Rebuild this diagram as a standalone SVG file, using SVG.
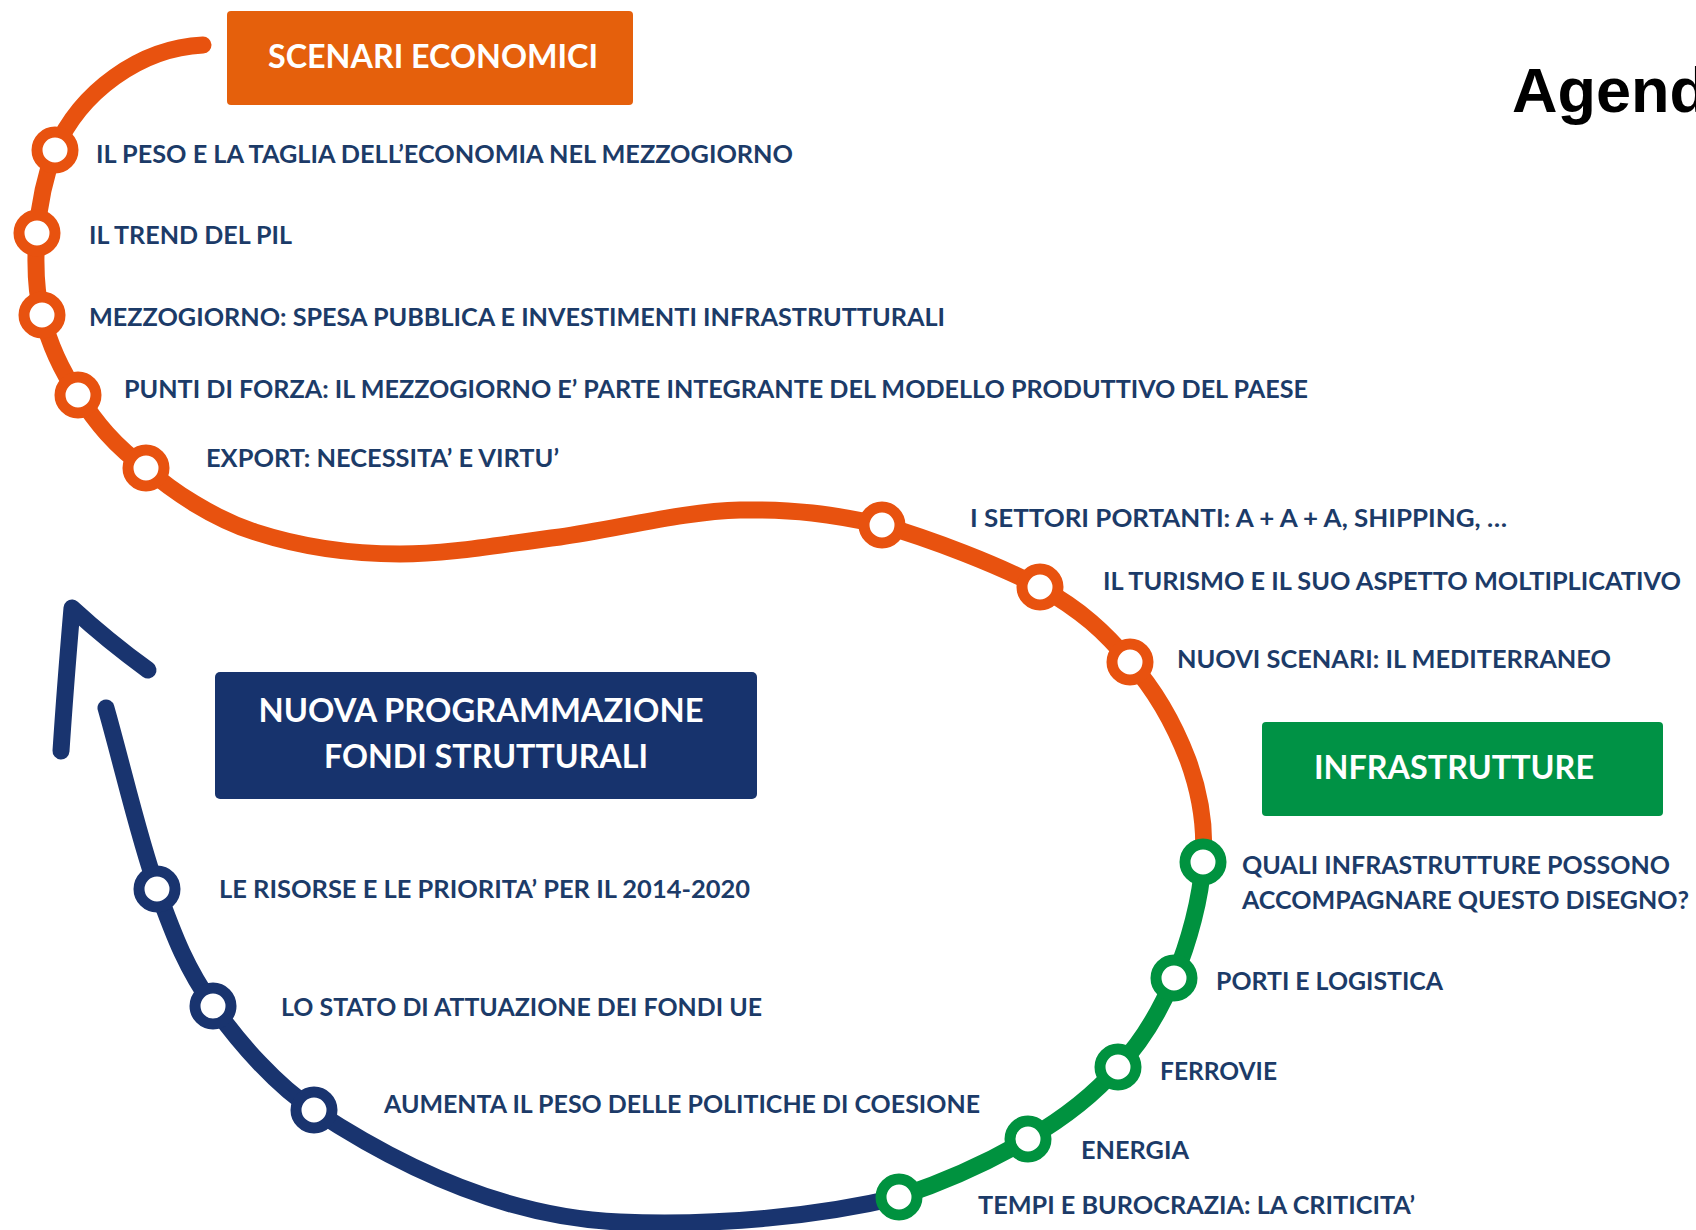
<svg xmlns="http://www.w3.org/2000/svg" width="1696" height="1230" viewBox="0 0 1696 1230">
  <style>
    .lbl { font-family: Lato, "Open Sans", "Liberation Sans", sans-serif; font-weight: 700; font-size: 25px; fill: #1c3b68; }
    .ttl { font-family: Lato, "Open Sans", "Liberation Sans", sans-serif; font-weight: 700; font-size: 33px; fill: #ffffff; text-anchor: middle; }
    .line { fill: none; stroke-width: 17; stroke-linecap: round; stroke-linejoin: round; }
    .stop { fill: #ffffff; stroke-width: 11; }
    .o { stroke: #e8520f; }
    .g { stroke: #00923f; }
    .b { stroke: #19346f; }
  </style>
  <rect width="1696" height="1230" fill="#ffffff"/>

  <text x="1512" y="112" font-family="'Liberation Sans', Arial, sans-serif" font-weight="700" font-size="63" fill="#000000">Agenda</text>

  <g id="connectors">
    <path class="line o" d="M 203 45 C 140 48 80 92 55 150 C 45 176 39 205 37 233 C 35 261 35 289 42 315 C 49 343 61 370 78 395 C 95 421 115 447 146 468 C 172 491 212 518 255 532 C 298 546 349 554 400 554 C 451 554 503 544 560 537 C 617 529 686 511 740 510 C 794 509 831 514 882 525 C 931 539 998 565 1040 587 C 1081 610 1105 632 1130 662 C 1155 690 1175 726 1188 760 C 1200 793 1206 826 1203 862"/>
    <path class="line g" d="M 1203 862 C 1201 898 1189 942 1174 978 C 1160 1011 1142 1042 1118 1067 C 1093 1096 1064 1118 1028 1139 C 992 1160 944 1182 899 1197"/>
    <path class="line b" d="M 899 1197 C 820 1216 720 1226 620 1222 C 520 1218 420 1180 314 1110 C 277 1086 239 1043 213 1006 C 187 969 175 939 157 889 C 139 839 123 768 106 708"/>
    <path class="line b" stroke-width="16" d="M 61 751 Q 65 690 72 608 Q 108 641 148 670"/>
  </g>

  <g id="scenari-economici">
    <rect x="227" y="11" width="406" height="94" rx="4" fill="#e5600c"/>
    <text class="ttl" x="433" y="68" textLength="330" lengthAdjust="spacingAndGlyphs">SCENARI ECONOMICI</text>
  </g>
  <g id="nuova-programmazione">
    <rect x="215" y="672" width="542" height="127" rx="5" fill="#17336d"/>
    <text class="ttl" x="481" y="722" textLength="445" lengthAdjust="spacingAndGlyphs">NUOVA PROGRAMMAZIONE</text>
    <text class="ttl" x="486" y="768" textLength="324" lengthAdjust="spacingAndGlyphs">FONDI STRUTTURALI</text>
  </g>
  <g id="infrastrutture">
    <rect x="1262" y="722" width="401" height="94" rx="4" fill="#009245"/>
    <text class="ttl" x="1454" y="779" textLength="280" lengthAdjust="spacingAndGlyphs">INFRASTRUTTURE</text>
  </g>

  <g id="stop-1"><circle class="stop o" cx="55" cy="150" r="18"/><text class="lbl" x="96" y="163" textLength="697" lengthAdjust="spacingAndGlyphs">IL PESO E LA TAGLIA DELL’ECONOMIA NEL MEZZOGIORNO</text></g>
  <g id="stop-2"><circle class="stop o" cx="37" cy="233" r="18"/><text class="lbl" x="89" y="244" textLength="203" lengthAdjust="spacingAndGlyphs">IL TREND DEL PIL</text></g>
  <g id="stop-3"><circle class="stop o" cx="42" cy="315" r="18"/><text class="lbl" x="89" y="326" textLength="856" lengthAdjust="spacingAndGlyphs">MEZZOGIORNO: SPESA PUBBLICA E INVESTIMENTI INFRASTRUTTURALI</text></g>
  <g id="stop-4"><circle class="stop o" cx="78" cy="395" r="18"/><text class="lbl" x="124" y="398" textLength="1184" lengthAdjust="spacingAndGlyphs">PUNTI DI FORZA: IL MEZZOGIORNO E’ PARTE INTEGRANTE DEL MODELLO PRODUTTIVO DEL PAESE</text></g>
  <g id="stop-5"><circle class="stop o" cx="146" cy="468" r="18"/><text class="lbl" x="206" y="467" textLength="353" lengthAdjust="spacingAndGlyphs">EXPORT: NECESSITA’ E VIRTU’</text></g>
  <g id="stop-6"><circle class="stop o" cx="882" cy="525" r="18"/><text class="lbl" x="970" y="527" textLength="537" lengthAdjust="spacingAndGlyphs">I SETTORI PORTANTI: A + A + A, SHIPPING, …</text></g>
  <g id="stop-7"><circle class="stop o" cx="1040" cy="587" r="18"/><text class="lbl" x="1103" y="590" textLength="578" lengthAdjust="spacingAndGlyphs">IL TURISMO E IL SUO ASPETTO MOLTIPLICATIVO</text></g>
  <g id="stop-8"><circle class="stop o" cx="1130" cy="662" r="18"/><text class="lbl" x="1177" y="668" textLength="434" lengthAdjust="spacingAndGlyphs">NUOVI SCENARI: IL MEDITERRANEO</text></g>

  <g id="stop-9"><circle class="stop g" cx="1203" cy="862" r="18"/>
    <text class="lbl" x="1242" y="874" textLength="428" lengthAdjust="spacingAndGlyphs">QUALI INFRASTRUTTURE POSSONO</text>
    <text class="lbl" x="1242" y="909" textLength="447" lengthAdjust="spacingAndGlyphs">ACCOMPAGNARE QUESTO DISEGNO?</text></g>
  <g id="stop-10"><circle class="stop g" cx="1174" cy="978" r="18"/><text class="lbl" x="1216" y="990" textLength="227" lengthAdjust="spacingAndGlyphs">PORTI E LOGISTICA</text></g>
  <g id="stop-11"><circle class="stop g" cx="1118" cy="1067" r="18"/><text class="lbl" x="1160" y="1080" textLength="117" lengthAdjust="spacingAndGlyphs">FERROVIE</text></g>
  <g id="stop-12"><circle class="stop g" cx="1028" cy="1139" r="18"/><text class="lbl" x="1081" y="1159" textLength="108" lengthAdjust="spacingAndGlyphs">ENERGIA</text></g>
  <g id="stop-13"><circle class="stop g" cx="899" cy="1197" r="18"/><text class="lbl" x="978" y="1214" textLength="437" lengthAdjust="spacingAndGlyphs">TEMPI E BUROCRAZIA: LA CRITICITA’</text></g>

  <g id="stop-14"><circle class="stop b" cx="314" cy="1110" r="18"/><text class="lbl" x="384" y="1113" textLength="596" lengthAdjust="spacingAndGlyphs">AUMENTA IL PESO DELLE POLITICHE DI COESIONE</text></g>
  <g id="stop-15"><circle class="stop b" cx="213" cy="1006" r="18"/><text class="lbl" x="281" y="1016" textLength="481" lengthAdjust="spacingAndGlyphs">LO STATO DI ATTUAZIONE DEI FONDI UE</text></g>
  <g id="stop-16"><circle class="stop b" cx="157" cy="889" r="18"/><text class="lbl" x="219" y="898" textLength="531" lengthAdjust="spacingAndGlyphs">LE RISORSE E LE PRIORITA’ PER IL 2014-2020</text></g>
</svg>
